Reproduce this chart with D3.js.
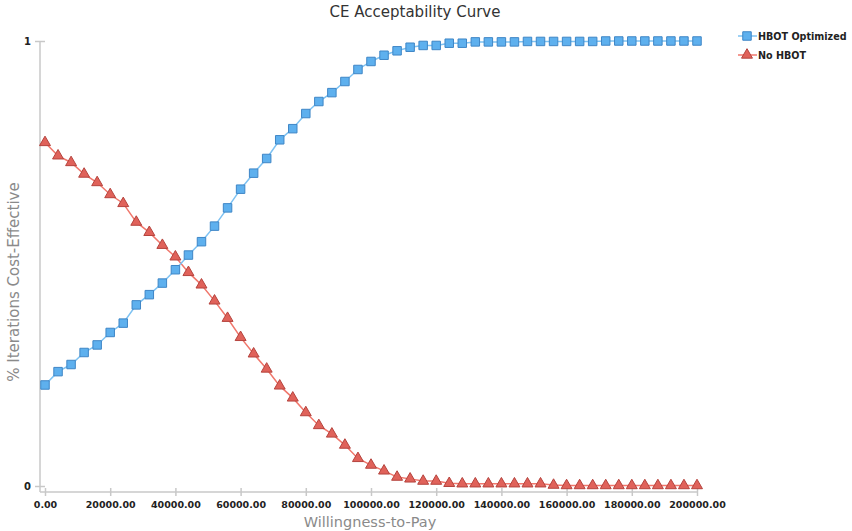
<!DOCTYPE html>
<html>
<head>
<meta charset="utf-8">
<script src="https://cdn.jsdelivr.net/npm/d3@7"></script>
<style>
  body { margin: 0; background: #fff; }
  svg { display: block; }
</style>
</head>
<body>
<svg id="chart" width="852" height="531"></svg>
<script>
// willingness-to-pay steps, 0 .. 200000 every 4000
const wtp = d3.range(0, 200001, 4000);

const hbot_optimized = [
  0.227, 0.257, 0.273, 0.300, 0.317, 0.345, 0.366, 0.407, 0.430, 0.456,
  0.486, 0.519, 0.549, 0.584, 0.625, 0.667, 0.703, 0.736, 0.778, 0.803,
  0.837, 0.864, 0.884, 0.909, 0.936, 0.954, 0.968, 0.978, 0.986, 0.990,
  0.990, 0.995, 0.995, 0.998, 0.998, 0.998, 0.998, 0.999, 0.999, 0.999,
  0.999, 0.999, 0.999, 1.000, 1.000, 1.000, 1.000, 1.000, 1.000, 1.000,
  1.000
];

const no_hbot = [
  0.772, 0.742, 0.727, 0.701, 0.682, 0.655, 0.635, 0.593, 0.570, 0.541,
  0.515, 0.480, 0.452, 0.416, 0.377, 0.334, 0.297, 0.263, 0.225, 0.198,
  0.165, 0.136, 0.117, 0.092, 0.062, 0.047, 0.034, 0.020, 0.016, 0.011,
  0.011, 0.006, 0.005, 0.005, 0.005, 0.005, 0.005, 0.005, 0.005, 0.002,
  0.001, 0.001, 0.001, 0.001, 0.001, 0.001, 0.001, 0.001, 0.001, 0.001,
  0.001
];

const x_ticks = [0, 20000, 40000, 60000, 80000, 100000, 120000, 140000, 160000, 180000, 200000];
const y_ticks = [0, 1];
const series_names = ["HBOT Optimized", "No HBOT"];

const svg = d3.select("#chart");
const font = "'DejaVu Sans', sans-serif";

let x = d3.scaleLinear().domain([0, 200000]).range([45, 697]);
let y = d3.scaleLinear().domain([0, 1]).range([486, 41]);

// title
svg.append("text")
    .attr("x", 415).attr("y", 17)
    .attr("text-anchor", "middle")
    .style("font-family", font).style("font-size", "15px")
    .style("fill", "#333")
    .text("CE Acceptability Curve");

// x axis
let xAxis = svg.append("g")
    .attr("transform", "translate(0,492)")
    .call(d3.axisBottom(x).tickValues(x_ticks)
        .tickFormat(d3.format(".2f")).tickSize(5).tickSizeOuter(0));
xAxis.select(".domain").attr("d", "M40,0H697").attr("stroke", "#c8c8c8").attr("stroke-width", 1.5);
xAxis.selectAll(".tick line").attr("stroke", "#c8c8c8").attr("stroke-width", 1.5).attr("y1", -4).attr("y2", 4);
xAxis.selectAll(".tick text")
    .attr("y", 9)
    .style("font-family", font).style("font-size", "9.5px")
    .style("font-weight", "bold").style("fill", "#222");

// y axis
let yAxis = svg.append("g")
    .attr("transform", "translate(40,0)")
    .call(d3.axisLeft(y).tickValues(y_ticks).tickFormat(d3.format("d")).tickSize(5).tickSizeOuter(0));
yAxis.select(".domain").attr("d", "M0,41V492").attr("stroke", "#c8c8c8").attr("stroke-width", 1.5);
yAxis.selectAll(".tick line").attr("stroke", "#c8c8c8").attr("stroke-width", 1.5).attr("x1", -5).attr("x2", 5);
yAxis.selectAll(".tick text")
    .attr("x", -9)
    .style("font-family", font).style("font-size", "10px")
    .style("font-weight", "bold").style("fill", "#222");

// axis titles
svg.append("text")
    .attr("x", 370).attr("y", 527)
    .attr("text-anchor", "middle")
    .style("font-family", font).style("font-size", "14.5px")
    .style("fill", "#8a8a8a")
    .text("Willingness-to-Pay");

svg.append("text")
    .attr("transform", "translate(19,282) rotate(-90)")
    .attr("text-anchor", "middle")
    .style("font-family", font).style("font-size", "15px")
    .style("fill", "#8a8a8a")
    .text("% Iterations Cost-Effective");

const blue = {line: "#7ec2f2", fill: "#5eb0ee", stroke: "#3f86c6"};
const red = {line: "#f0776c", fill: "#e0625a", stroke: "#b5433d"};

function drawSeries(values, col, shape) {
    let pts = wtp.map((d, i) => [d, values[i]]);
    let line = d3.line().x(d => x(d[0])).y(d => y(d[1]));
    svg.append("path")
        .datum(pts)
        .attr("d", line)
        .attr("fill", "none")
        .attr("stroke", col.line)
        .attr("stroke-width", 1.5);
    let sym = d3.symbol().type(shape).size(shape === d3.symbolSquare ? 72 : 52);
    svg.append("g")
        .selectAll("path")
        .data(pts)
        .enter()
        .append("path")
        .attr("d", sym)
        .attr("transform", d => "translate(" + x(d[0]) + "," + y(d[1]) + ")")
        .attr("fill", col.fill)
        .attr("stroke", col.stroke)
        .attr("stroke-width", 1);
}

drawSeries(no_hbot, red, d3.symbolTriangle);
drawSeries(hbot_optimized, blue, d3.symbolSquare);

// legend
let legend = svg.append("g");
[[blue, d3.symbolSquare, 36], [red, d3.symbolTriangle, 55]].forEach(function (item, i) {
    let col = item[0];
    legend.append("line")
        .attr("x1", 738).attr("x2", 757)
        .attr("y1", item[2]).attr("y2", item[2])
        .attr("stroke", col.line).attr("stroke-width", 1.5);
    legend.append("path")
        .attr("d", d3.symbol().type(item[1]).size(item[1] === d3.symbolSquare ? 72 : 52))
        .attr("transform", "translate(747," + item[2] + ")")
        .attr("fill", col.fill).attr("stroke", col.stroke);
    legend.append("text")
        .attr("x", 758).attr("y", item[2] + 4)
        .style("font-family", font).style("font-size", "9.6px")
        .style("font-weight", "bold").style("fill", "#222")
        .text(series_names[i]);
});
</script>
</body>
</html>
